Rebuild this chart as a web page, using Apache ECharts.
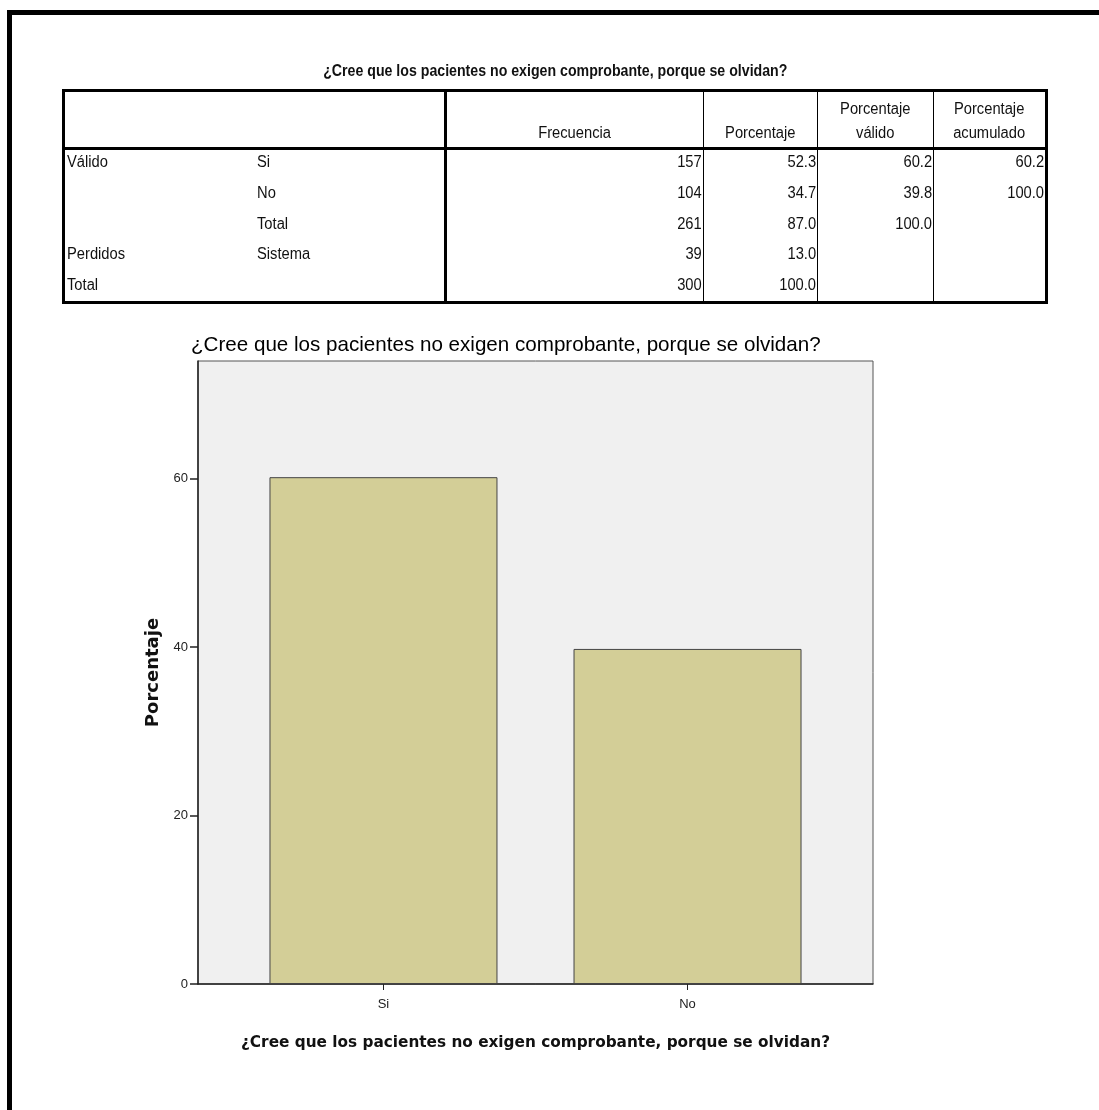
<!DOCTYPE html>
<html>
<head>
<meta charset="utf-8">
<script src="https://cdn.jsdelivr.net/npm/echarts@6/dist/echarts.min.js"></script>
<style type="text/css">
body{margin:0; background:#fff; width:1099px; height:1110px; overflow:hidden; position:relative;}
.frame{position:absolute; left:7px; top:10px; width:1200px; height:1200px; border-left:5px solid #000; border-top:5px solid #000;}
.charts{position:absolute; left:0; top:0; width:1099px; height:1110px;}
.ttl{position:absolute; left:0; width:1110px; top:62px; text-align:center; font:bold 16px "Liberation Sans",sans-serif; color:#111;}
.ttl span{display:inline-block; transform:scaleX(0.885); transform-origin:center;}
table.freq{position:absolute; left:62px; top:89px; width:986px; border-collapse:collapse; border:3px solid #000;
  font:16px "Liberation Sans",sans-serif; color:#111;}
table.freq td{padding:2px 1px 0 1px; vertical-align:top; height:28.8px; line-height:20px; white-space:nowrap;}
table.freq td span{display:inline-block; transform:scaleX(0.92); transform-origin:left center;}
table.freq thead td{height:53px; padding:0 1px 2px 1px; vertical-align:bottom; text-align:center; border-bottom:3px solid #000; line-height:24px; border-right:1px solid #000;}
table.freq thead td span{transform-origin:center;}
table.freq .num{text-align:right; border-right:1px solid #000;}
table.freq .num span{transform-origin:right center;}
table.freq .lbl{padding-left:2px;}
table.freq td.sep{border-right:3px solid #000;}
table.freq tr.last td{height:26px;}
</style>
</head>
<body>
<div class="charts" id="myChart"></div>
<div class="frame"></div>
<div class="ttl"><span id="tblTitle"></span></div>
<table class="freq" id="freqTable"></table>
<script>
var question = '¿Cree que los pacientes no exigen comprobante, porque se olvidan?';
// tabla de frecuencias
var headers = ['Frecuencia', 'Porcentaje', 'Porcentaje<br>válido', 'Porcentaje<br>acumulado'];
var rowGroup = ['Válido', '', '', 'Perdidos', 'Total'];
var rowLabel = ['Si', 'No', 'Total', 'Sistema', ''];
var frecuencia = ['157', '104', '261', '39', '300'];
var porcentaje = ['52.3', '34.7', '87.0', '13.0', '100.0'];
var pctValido = ['60.2', '39.8', '100.0', '', ''];
var pctAcumulado = ['60.2', '100.0', '', '', ''];
// grafico
var categorias = ['Si', 'No'];
var valores = [60.2, 39.8];
var yTicks = [0, 20, 40, 60];

document.getElementById('tblTitle').textContent = question;

function sp(t) { return t === '' ? '' : '<span>' + t + '</span>'; }

var html = '<colgroup><col style="width:192px"><col style="width:190px"><col style="width:258px">' +
    '<col style="width:114px"><col style="width:116px"><col></colgroup>';
html += '<thead><tr><td style="border-right:0"></td><td class="sep"></td>';
for (var h = 0; h < headers.length; h++) {
    html += '<td' + (h == headers.length - 1 ? ' style="border-right:0"' : '') + '>' + sp(headers[h]) + '</td>';
}
html += '</tr></thead><tbody>';
for (var i = 0; i < rowLabel.length; i++) {
    html += '<tr' + (i == rowLabel.length - 1 ? ' class="last"' : '') + '><td class="lbl">' + sp(rowGroup[i]) + '</td><td class="sep">' + sp(rowLabel[i]) + '</td>' +
        '<td class="num">' + sp(frecuencia[i]) + '</td><td class="num">' + sp(porcentaje[i]) + '</td>' +
        '<td class="num">' + sp(pctValido[i]) + '</td><td class="num" style="border-right:0">' + sp(pctAcumulado[i]) + '</td></tr>';
}
html += '</tbody>';
document.getElementById('freqTable').innerHTML = html;

var myChart = echarts.init(document.getElementById('myChart'));
var options = {
    animation: false,
    title: {
        text: question,
        left: 186,
        top: 330,
        textStyle: {fontFamily: 'Liberation Sans', fontWeight: 'normal', fontSize: 20.6, color: '#000'}
    },
    grid: {
        left: 198, top: 361, right: 226, bottom: 126,
        show: true, backgroundColor: '#f0f0f0', borderColor: '#555', borderWidth: 1
    },
    xAxis: {
        type: 'value',
        min: 0.39, max: 2.61,
        name: question,
        nameLocation: 'middle',
        nameGap: 52,
        nameTextStyle: {fontFamily: 'DejaVu Sans', fontWeight: 'bold', fontSize: 15.3, color: '#111'},
        splitLine: {show: false},
        axisLine: {lineStyle: {color: '#222', width: 1.5}},
        axisTick: {show: true, length: 6, lineStyle: {color: '#222'}, customValues: [1, 2]},
        axisLabel: {
            customValues: [1, 2], margin: 14,
            fontFamily: 'Liberation Sans', fontSize: 13, color: '#222',
            formatter: function (v) { return categorias[Math.round(v) - 1] || ''; }
        }
    },
    yAxis: {
        type: 'value',
        min: 0, max: 74,
        name: 'Porcentaje',
        nameLocation: 'middle',
        nameGap: 36,
        nameTextStyle: {fontFamily: 'DejaVu Sans', fontWeight: 'bold', fontSize: 18, color: '#111'},
        splitLine: {show: false},
        axisLine: {show: true, lineStyle: {color: '#222', width: 1.5}},
        axisTick: {show: true, length: 8, lineStyle: {color: '#222', width: 1.5}, customValues: yTicks},
        axisLabel: {customValues: yTicks, margin: 10, fontFamily: 'Liberation Sans', fontSize: 13, color: '#222'}
    },
    series: [{
        type: 'bar',
        barWidth: 228,
        data: valores.map(function (v, i) { return [i + 1, v]; }),
        itemStyle: {color: '#d3ce97', borderColor: '#444', borderWidth: 1}
    }]
};
myChart.setOption(options);
</script>
</body>
</html>
